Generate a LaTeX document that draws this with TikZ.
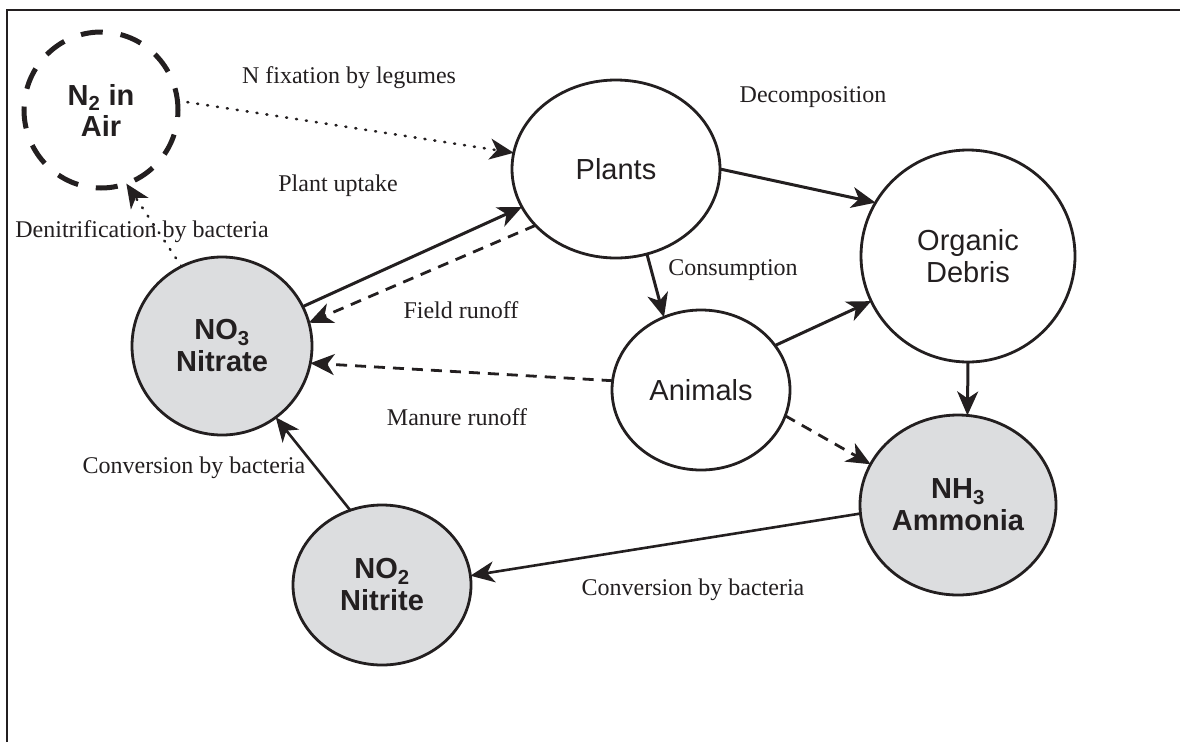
\documentclass[tikz,border=0pt]{standalone}
\usepackage{fontspec}
\setmainfont{Liberation Serif}
\setsansfont{Liberation Sans}
\usetikzlibrary{shapes.geometric,arrows.meta}
\definecolor{ink}{RGB}{35,31,32}
\definecolor{chemfill}{RGB}{220,221,223}
\begin{document}
\begin{tikzpicture}[x=1pt,y=-1pt,
  blob/.style={ellipse, draw=ink, line width=2.8pt, inner sep=0pt, outer sep=0pt, text=ink,
    font=\sffamily\fontsize{29}{32}\selectfont, align=center},
  chem/.style={blob, fill=chemfill, font=\sffamily\bfseries\fontsize{29}{32}\selectfont},
  airblob/.style={blob, line width=5pt, dash pattern=on 22pt off 18pt,
    font=\sffamily\bfseries\fontsize{29}{31}\selectfont},
  lbl/.style={font=\rmfamily\fontsize{24}{28}\selectfont, text=ink, inner sep=0pt},
  tip/.style={-{Stealth[length=24pt,width=21pt,inset=7pt]}},
  arr/.style={draw=ink, line width=3pt, tip},
  dsh/.style={arr, line width=2.8pt, dash pattern=on 11pt off 8pt},
  dotl/.style={draw=ink, line width=2.6pt, dash pattern=on 1pt off 9pt, line cap=round, tip}]

\useasboundingbox (0,0) rectangle (1180,742);
\draw[line width=2.4pt, ink] (7,742) -- (7,10) -- (1180,10);

% nodes
\node[airblob, minimum width=154pt, minimum height=156pt] (n2) at (101,110) {N\textsubscript{2} in\\Air};
\node[blob, minimum width=208pt, minimum height=178pt] (plants) at (616,169) {Plants};
\node[blob, minimum width=214pt, minimum height=212pt] (organic) at (968,256) {Organic\\Debris};
\node[blob, minimum width=178pt, minimum height=160pt] (animals) at (701,390) {Animals};
\node[chem, minimum width=196pt, minimum height=180pt] (nh3) at (958,505) {NH\textsubscript{3}\\Ammonia};
\node[chem, minimum width=180pt, minimum height=178pt] (no3) at (222,346) {NO\textsubscript{3}\\Nitrate};
\node[chem, minimum width=178pt, minimum height=160pt] (no2) at (382,585) {NO\textsubscript{2}\\Nitrite};

% labels
\node[lbl] (lfix) at (349,78) {N fixation by legumes};
\node[lbl] (ldec) at (813,97) {Decomposition};
\node[lbl] (lupt) at (338,186) {Plant uptake};
\node[lbl] (lden) at (142,232) {Denitrification by bacteria};
\node[lbl] (lcon) at (733,270) {Consumption};
\node[lbl] (lfld) at (461,310) {Field runoff};
\node[lbl] (lman) at (457,417) {Manure runoff};
\node[lbl] (lcv1) at (194,468) {Conversion by bacteria};
\node[lbl] (lcv2) at (693,590) {Conversion by bacteria};

% connectors
\draw[dotl] (n2.7) -- (plants.171);
\draw[dotl] (no3.117) -- (n2.-71);
\draw[arr] (no3.26) -- (plants.202);
\draw[dsh] (plants.215) -- (no3.15);
\draw[dsh] (animals.174) -- (no3.-11);
\draw[arr] (plants.-70) -- (animals.117);
\draw[arr] (plants.0) -- (organic.150);
\draw[arr] (animals.31) -- (organic.205);
\draw[arr] (organic.270) -- (nh3.84);
\draw[dsh] (animals.-17) -- (nh3.155);
\draw[arr, line width=2.6pt] (nh3.185) -- (no2.6);
\draw[arr, line width=2.6pt] (no2.113) -- (no3.-53);
\end{tikzpicture}
\end{document}
